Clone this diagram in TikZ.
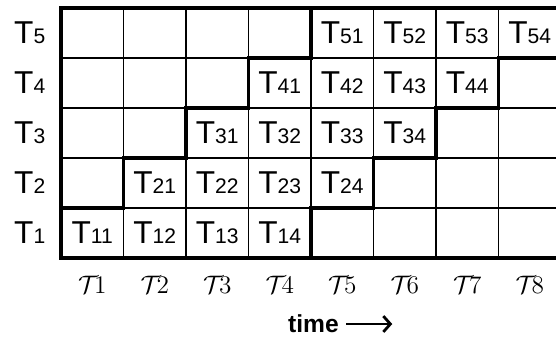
\documentclass[tikz,border=0pt]{standalone}
\usepackage{fontspec}
\setmainfont{Liberation Sans}
\usetikzlibrary{arrows.meta}
\newcommand{\tsub}[1]{{\fontsize{12}{12}\selectfont #1}}
\begin{document}
\begin{tikzpicture}[x=1.25cm, y=1cm,
    task/.style={inner sep=0pt, font=\fontsize{18}{18}\selectfont},
    slot/.style={inner sep=0pt, font=\fontsize{14}{16}\selectfont},
    band/.style={line width=1.8pt, line cap=rect}]
    \useasboundingbox (-0.976,-1.64) rectangle (7.92,5.16);
    % grid of time slots
    \draw[line width=1pt, xstep=1.25cm, ystep=1cm] (0,0) grid (8.5,5);
    % outer border and stair-shaped band
    \draw[band] (8.5,5) -- (0,5) -- (0,0) -- (8.5,0);
    \draw[band] (0,1) -- (1,1) -- (1,2) -- (2,2) -- (2,3) -- (3,3) -- (3,4) -- (4,4) -- (4,5);
    \draw[band] (4,0) -- (4,1) -- (5,1) -- (5,2) -- (6,2) -- (6,3) -- (7,3) -- (7,4) -- (8.5,4);
    % row labels and tasks
    \foreach \r in {1,...,5} {
        \node[task] (lab\r) at (-0.5,\r-0.5) {T\tsub{\r}};
        \foreach \c in {1,...,4}
            \node[task] (t\r\c) at (\r+\c-1.5,\r-0.5) {T\tsub{\r\c}};
    }
    % time slots
    \foreach \c in {1,...,8}
        \node[slot] (slot\c) at (\c-0.5,-0.54) {$\mathcal{T}\!\c$};
    \node[font=\fontsize{14}{16}\selectfont\bfseries, inner sep=1pt] (time) at (4.04,-1.32) {time};
    \coordinate (timeend) at (5.3,-1.32);
    \draw[-{Straight Barb[length=4pt,width=9pt]}, line width=1.6pt] ([xshift=3pt]time.east) -- (timeend);
\end{tikzpicture}
\end{document}
